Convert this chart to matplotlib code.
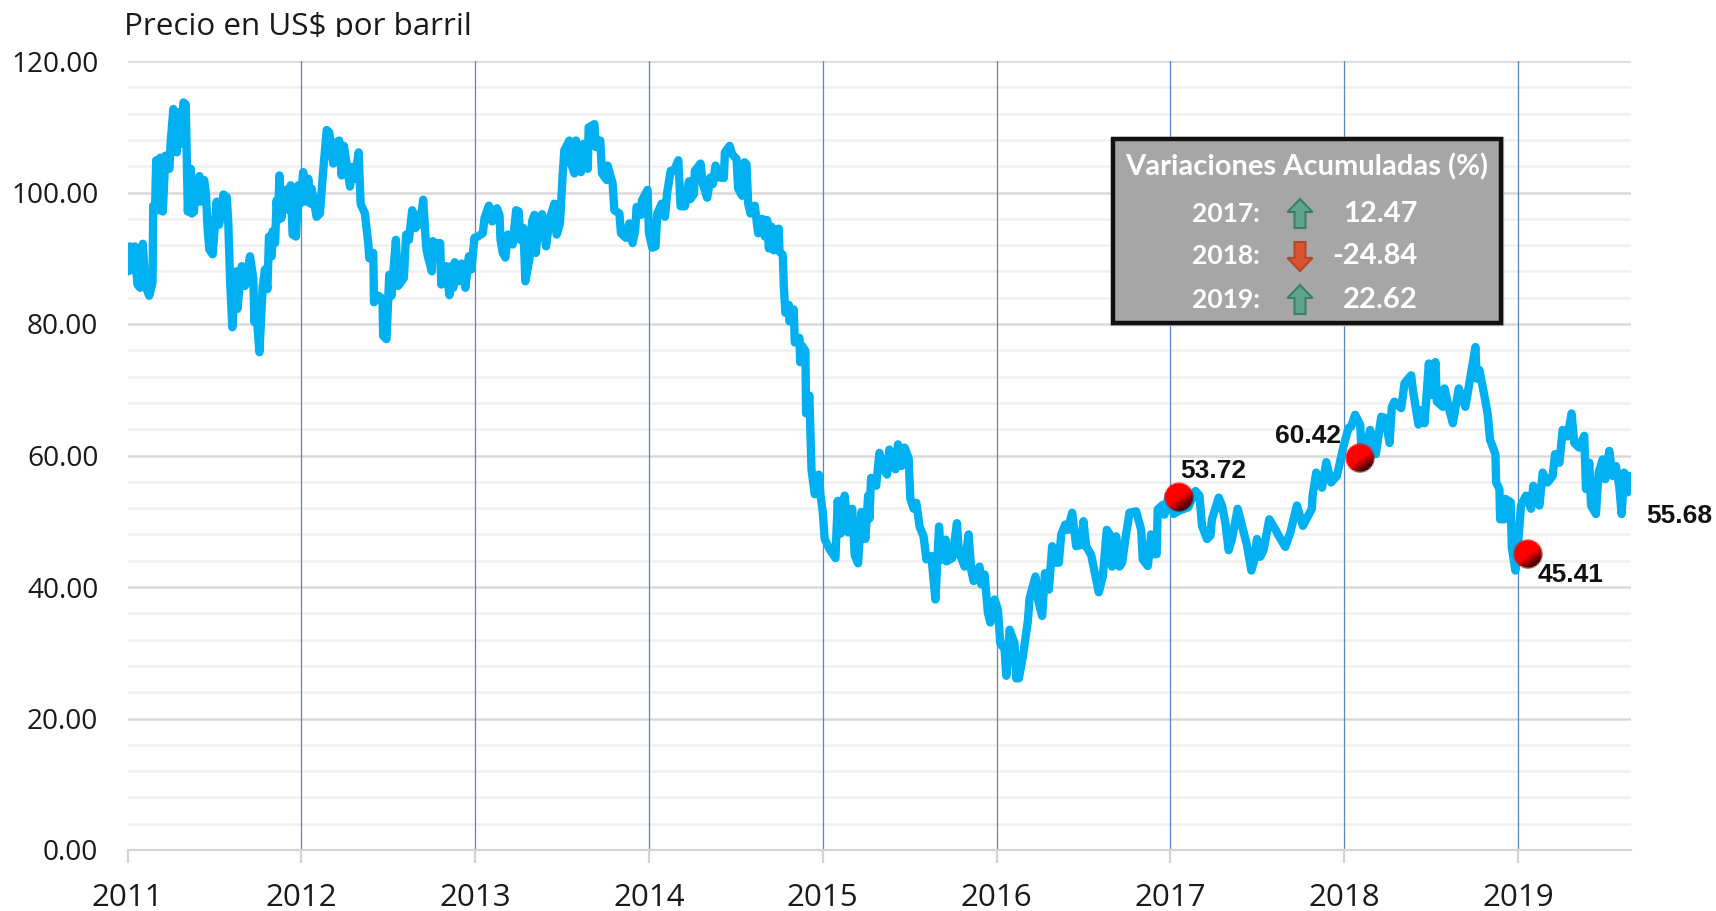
import numpy as np
import matplotlib
matplotlib.use('Agg')
import matplotlib.pyplot as plt
from matplotlib.patches import Polygon, Rectangle
from matplotlib.offsetbox import OffsetImage, AnnotationBbox

# price, one pair of lists per segment (time in fractional years)
t_2011 = [2011.004, .015, .027, .042, .057, .073, .088, .103, .125, .144, .148, .159, .165, .178, .188, .203, .218, .241, .249, .264, .284, .295, .308, .322, .335, .347, .364, .370, .383, .389, .414, .418, .441, .452, .460, .471, .490, .513, .527, .552, .571, .580, .590, .603, .625, .632, .657, .676, .705, .724, .730, .739, .759, .778, .791, .805, .814, .830, .835, .849, .858, .866, .874, .885, .910, .925, .939, .950, .969, .983, .992]
v_2011 = [88, 91.8, 88.3, 91.8, 86, 85.5, 92.2, 85.8, 84.3, 86.3, 98, 98.1, 104.9, 97.3, 105.3, 97.1, 105.6, 103.6, 107.9, 112.7, 106.1, 112.2, 107.4, 113.7, 113.4, 97.1, 103.6, 96.8, 97.1, 101.1, 102.5, 98.6, 101.9, 99.6, 94.8, 91.3, 90.6, 98.6, 95.1, 99.7, 99.3, 95.3, 86.8, 79.5, 88, 82.3, 88.8, 85.8, 90.3, 86.8, 80.3, 82.8, 75.7, 85.8, 88.3, 85.3, 93.3, 90.3, 94.1, 92.3, 98.8, 95.8, 102.6, 96.1, 100.4, 97.4, 101.1, 93.6, 93.3, 101.1, 98.3]
t_2012 = [.011, .023, .040, .054, .059, .088, .107, .123, .146, .161, .184, .195, .218, .232, .245, .257, .280, .295, .308, .330, .341, .366, .385, .391, .414, .418, .443, .467, .471, .490, .506, .519, .544, .557, .590, .603, .619, .638, .657, .670, .684, .701, .718, .728, .751, .757, .770, .780, .799, .805, .833, .852, .862, .874, .883, .906, .923, .944, .964, .979, .996]
v_2012 = [103.1, 98.6, 102.1, 98.3, 100.6, 96.3, 96.8, 102.4, 109.5, 109.1, 104.4, 107.5, 107.9, 102.6, 107.1, 104.9, 100.9, 103.9, 102.1, 106.1, 98.3, 96.8, 92.3, 90, 90.8, 83.3, 84.3, 83.8, 78.2, 77.7, 87.5, 84.3, 92.8, 85.8, 87, 93.6, 92.8, 97.3, 94.6, 96.6, 95.1, 98.9, 91.8, 90.3, 88, 92.6, 90.3, 92.3, 92.3, 86, 88.8, 84.4, 88.8, 85.5, 89.4, 86.5, 89.2, 85.5, 90.3, 88.3, 93.1]
t_2013 = [.015, .044, .054, .079, .098, .125, .140, .146, .159, .174, .188, .216, .236, .251, .259, .278, .289, .312, .328, .341, .349, .360, .385, .408, .427, .456, .469, .488, .504, .513, .542, .546, .571, .580, .609, .623, .648, .653, .686, .695, .720, .730, .757, .762, .791, .801, .830, .839, .868, .887, .906, .921, .929, .954, .960, .992]
v_2013 = [93.3, 93.8, 96.1, 98, 95.6, 97.6, 96.6, 92.8, 90.8, 90.1, 93.6, 92.1, 97.3, 97.1, 92.8, 94.6, 86.5, 89.8, 95.6, 96.6, 90.8, 94.1, 96.7, 91.8, 95.8, 98.3, 93.6, 95.3, 102.9, 106.4, 107.9, 104.9, 102.9, 107.9, 103.1, 107.4, 103.6, 109.9, 110.4, 106.9, 107.9, 102.9, 101.9, 104.1, 101.4, 97.3, 96.8, 93.8, 93.1, 95.3, 92.3, 94.3, 97.8, 96.6, 98.8, 100.4]
t_2014 = [.000, .019, .038, .048, .073, .092, .105, .125, .144, .169, .182, .207, .230, .239, .259, .264, .297, .310, .335, .354, .368, .383, .402, .431, .437, .464, .479, .504, .513, .536, .550, .561, .571, .584, .609, .628, .651, .667, .680, .690, .705, .718, .728, .747, .751, .770, .776, .785, .805, .808, .833, .839, .866, .870, .881, .900, .904, .923, .935, .954, .977, .987]
v_2014 = [93.8, 91.6, 91.8, 96.8, 98.3, 96.3, 100, 103.3, 103.3, 104.9, 97.9, 97.9, 101.7, 99, 99.8, 103.3, 104.4, 101.3, 99.2, 102.3, 101.3, 104.1, 102.3, 102.2, 106.1, 107.1, 105.8, 105.1, 100.6, 99.5, 104.6, 104.3, 98.3, 96.8, 98, 93.8, 96, 93.3, 95.8, 91.5, 94.8, 91.2, 94.3, 94.5, 91, 90.5, 85.7, 81.7, 82.9, 80.4, 82.2, 77.2, 77.9, 74.2, 76.7, 75.9, 66.4, 69.1, 57.9, 54.1, 57.1, 53.9]
t_2015 = [.000, .011, .038, .073, .086, .102, .126, .146, .169, .184, .203, .222, .245, .261, .268, .278, .307, .326, .351, .370, .383, .418, .433, .452, .471, .494, .504, .523, .538, .557, .580, .596, .625, .634, .648, .669, .682, .707, .711, .745, .772, .783, .816, .839, .854, .868, .902, .912, .931, .950, .964, .989]
v_2015 = [51.4, 47.3, 45.8, 44.4, 53.1, 48.1, 53.9, 48.3, 51.9, 44.8, 43.6, 51.4, 47.3, 53.9, 50.4, 56.6, 55.4, 60.4, 57.9, 57.1, 60.9, 57.9, 61.7, 58.4, 61.2, 59.6, 53.4, 51.9, 52.8, 49.2, 47.7, 44.2, 44.7, 42.1, 38.1, 49.2, 44.2, 47.2, 43.9, 44.4, 49.7, 45.4, 43.1, 48, 42.6, 40.9, 43.1, 40.4, 41.9, 36.1, 34.6, 38.1]
t_2016 = [.008, .021, .046, .056, .075, .103, .113, .128, .151, .180, .190, .224, .238, .262, .278, .301, .320, .333, .358, .372, .395, .410, .435, .458, .487, .500, .515, .544, .573, .588, .611, .634, .659, .665, .688, .707, .722, .745, .765, .803, .832, .841, .870, .889, .898, .921, .927, .956, .966, .990]
v_2016 = [36.5, 31.5, 30.5, 26.5, 33.5, 31.5, 26.1, 26.1, 29.4, 34.8, 38.3, 41.6, 38.1, 35.6, 42.1, 39.6, 46.2, 43.7, 43.7, 48, 49.5, 48.7, 51.3, 46.2, 46.4, 50, 46.2, 44.9, 41.1, 39.2, 41.6, 48.7, 47.7, 43.1, 47.7, 43.1, 43.7, 48, 51.3, 51.5, 48.7, 44.2, 43.2, 48, 45, 45, 51.8, 52.5, 51, 54]
t_2017 = [.019, .048, .102, .144, .167, .182, .211, .230, .239, .278, .297, .316, .335, .354, .387, .412, .441, .466, .485, .498, .517, .536, .569, .603, .623, .661, .690, .728, .762, .814, .818, .839, .872, .897, .925, .958, .996]
v_2017 = [51.1, 51.6, 52.1, 54.6, 53.9, 49.3, 47.3, 47.8, 50.3, 53.6, 52.4, 49.8, 45.6, 47.3, 51.9, 49.3, 46.3, 42.5, 44.3, 47.3, 44.6, 45.6, 50.3, 48.8, 47.8, 46.1, 48.3, 52.4, 49.3, 51.9, 53.9, 57.4, 55.1, 59, 55.9, 56.9, 61.4]
t_2018 = [.025, .040, .063, .092, .098, .121, .149, .182, .213, .236, .261, .274, .289, .328, .347, .385, .395, .427, .443, .462, .487, .500, .525, .533, .567, .577, .605, .625, .659, .697, .726, .755, .762, .778, .807, .826, .839, .870, .874, .893, .897, .921, .927, .958, .964, .985]
v_2018 = [64.2, 64.4, 66.2, 64.7, 61.4, 60.4, 63.9, 60.2, 65.9, 65.7, 61.9, 67.4, 68.2, 67.2, 71, 72.2, 70, 64.7, 66.9, 64.9, 74, 69.2, 74.2, 68.2, 67.4, 70.2, 66.9, 64.9, 70.2, 67.4, 72, 76.5, 71.7, 73, 69, 66.2, 62.4, 60.2, 55.9, 54.9, 50.3, 50.3, 53.4, 52.9, 46.1, 42.5]
t_2019 = [.004, .017, .046, .075, .088, .123, .142, .170, .199, .213, .238, .257, .285, .308, .324, .352, .381, .391, .410, .420, .448, .464, .487, .502, .525, .544, .563, .582, .596, .611, .630, .637, .645]
v_2019 = [47.8, 52.4, 53.9, 51.9, 55.4, 52.4, 57.4, 55.9, 56.9, 60.2, 58.9, 63.9, 62.9, 66.4, 61.9, 61.2, 63, 54.9, 58.9, 52.4, 51.1, 57.4, 59.4, 56.4, 60.7, 56.9, 58.4, 55.4, 51.1, 57.4, 54.4, 56.9, 55.68]

marker_t = [2017.05, 2018.09, 2019.057]
marker_v = [53.6, 59.6, 45.0]
marker_labels = ['53.72', '60.42', '45.41']

end_label = '55.68'
years = list(range(2011, 2020))
major_y = list(range(0, 121, 20))
minor_y = [y for y in range(0, 121, 4) if y % 20]

box_years = ['2017:', '2018:', '2019:']
box_values = ['12.47', '-24.84', '22.62']

# join the segments
t_all = []
v_all = []
for start, ts, vs in [(2011, t_2011, v_2011), (2012, t_2012, v_2012), (2013, t_2013, v_2013),
                      (2014, t_2014, v_2014), (2015, t_2015, v_2015), (2016, t_2016, v_2016),
                      (2017, t_2017, v_2017), (2018, t_2018, v_2018), (2019, t_2019, v_2019)]:
    t_all += [start + (x % 1) for x in ts]
    v_all += vs

W, H = 1716, 911
plt.rcParams['font.family'] = ['Open Sans', 'DejaVu Sans']
fig = plt.figure(figsize=(W / 100, H / 100), dpi=100)
ax = fig.add_axes([127.5 / W, 1 - 850 / H, (1631 - 127.5) / W, (850 - 61) / H])

ax.set_xlim(2011, 2019.65)
ax.set_ylim(0, 120)
for s in ['top', 'left', 'right']:
    ax.spines[s].set_visible(False)
ax.spines['bottom'].set_color('#D4D4D4')
ax.spines['bottom'].set_linewidth(1.6)

ax.set_yticks(major_y)
ax.set_yticks(minor_y, minor=True)
ax.set_yticklabels([f'{y:.2f}' for y in major_y], fontsize=20.2, color='#1a1a1a')
ax.set_xticks(years)
ax.set_xticklabels([str(y) for y in years], fontsize=22.5, color='#1a1a1a')
ax.tick_params(axis='y', which='both', length=0, pad=21)
ax.tick_params(axis='x', length=9, width=1.6, color='#D4D4D4', pad=15)
ax.grid(axis='y', which='major', color='#D9D9D9', lw=1.8, zorder=1)
ax.grid(axis='y', which='minor', color='#F0F0F0', lw=1.8, zorder=1)

for y in years[1:]:
    ax.axvline(y, color='#5B84C4', lw=0.9, zorder=2)

ax.plot(t_all, v_all, color='#00B0F0', lw=6, solid_joinstyle='round', solid_capstyle='round', zorder=3)

# glossy red ball for the markers
n = 21
yy, xx = np.mgrid[0:n, 0:n]
r = (n - 1) / 2
dist = np.hypot(xx - r, yy - r) / r
ball = np.zeros((n, n, 4))
lower_right = ((xx - r) + 1.4 * (yy - r)) / (2.4 * r)
ball[..., 0] = np.clip(1.05 - np.clip(lower_right, 0, 1) * 1.3, 0.3, 1)
ball[..., 3] = np.clip((1 - dist) * r + 0.5, 0, 1)
for mt, mv in zip(marker_t, marker_v):
    ab = AnnotationBbox(OffsetImage(ball, zoom=0.72 * 100 / 72), (mt, mv), frameon=False, pad=0, zorder=5)
    ax.add_artist(ab)

# overlay in pixel coordinates for the texts and the box
ov = fig.add_axes([0, 0, 1, 1], facecolor='none')
ov.set_xlim(0, W)
ov.set_ylim(H, 0)
ov.axis('off')

lab = dict(family='Liberation Sans', weight='bold', fontsize=19, color='#111111')
ov.text(1180, 471, marker_labels[0], ha='left', va='center', **lab)
ov.text(1341, 436, marker_labels[1], ha='right', va='center', **lab)
ov.text(1538, 575, marker_labels[2], ha='left', va='center', **lab)
ov.text(1646, 516, end_label, ha='left', va='center', **lab)

ov.text(124, 35, 'Precio en US$ por barril', fontsize=22.6, color='#1a1a1a', va='baseline')
ov.add_patch(Rectangle((100, 37), 420, 14, fc='white', ec='none', zorder=4))

# summary box
ov.add_patch(Rectangle((1111, 137), 392, 187.5, fc='none', ec='#BBBBBB', lw=1, zorder=6))
ov.add_patch(Rectangle((1113, 139), 388, 183.5, fc='#A6A6A6', ec='#111111', lw=3.2, zorder=6))
white = dict(color='white', family='Lato', weight='bold', zorder=7, va='baseline')
ov.text(1307, 175, 'Variaciones Acumuladas (%)', ha='center', fontsize=21, **white)
rows_y = [221.5, 264.5, 307.5]
for name, val, y in zip(box_years, box_values, rows_y):
    ov.text(1260, y, name, ha='right', fontsize=19, **white)
    ov.text(1418, y, val, ha='right', fontsize=21, **white)


def block_arrow(cx, top, bottom, up, fc, ec):
    hw, sw, head = 12.5, 5.5, 13
    if up:
        pts = [(cx, top), (cx + hw, top + head), (cx + sw, top + head), (cx + sw, bottom),
               (cx - sw, bottom), (cx - sw, top + head), (cx - hw, top + head)]
    else:
        pts = [(cx, bottom), (cx + hw, bottom - head), (cx + sw, bottom - head), (cx + sw, top),
               (cx - sw, top), (cx - sw, bottom - head), (cx - hw, bottom - head)]
    ov.add_patch(Polygon(pts, closed=True, fc=fc, ec=ec, lw=1.5, zorder=7))


block_arrow(1300, 199, 228, True, '#5FA58C', '#3B7F68')
block_arrow(1300, 242, 271, False, '#DB5430', '#B5472A')
block_arrow(1300, 285, 314, True, '#5FA58C', '#3B7F68')

plt.savefig('out.png', dpi=100)
